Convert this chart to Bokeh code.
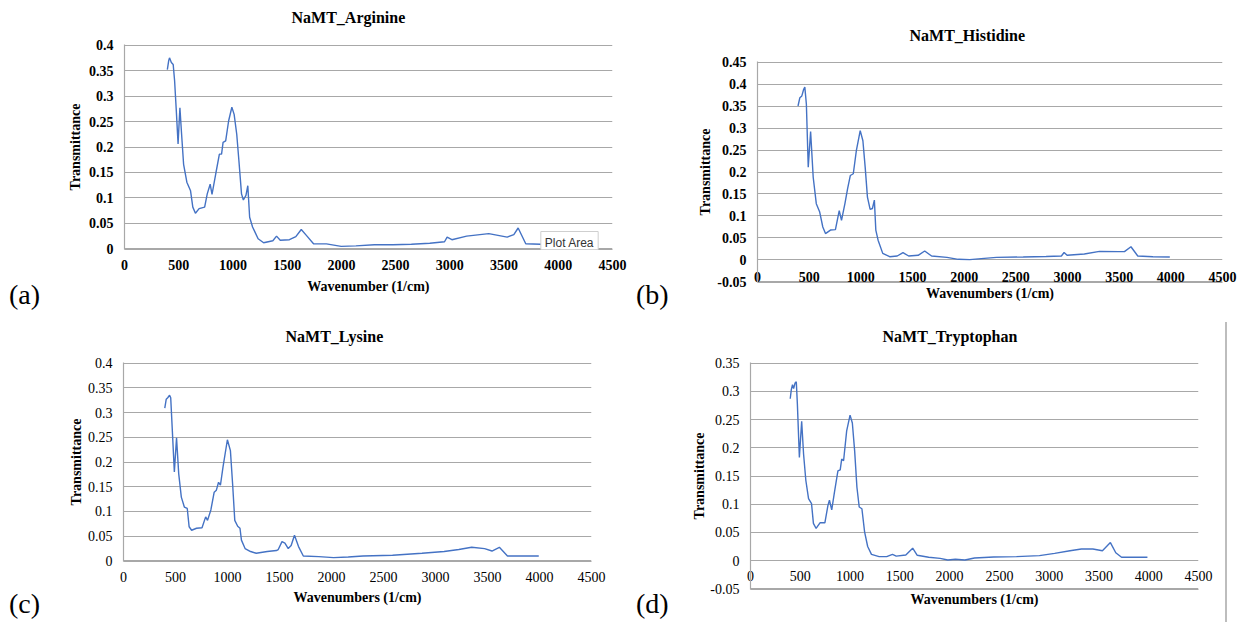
from bokeh.plotting import figure
from bokeh.models import Range1d, FixedTicker, Label, Title, Spacer, Div
from bokeh.layouts import column, row
from bokeh.embed import file_html
from bokeh.resources import INLINE

# ---------------- data ----------------
X_TICKS = [0, 500, 1000, 1500, 2000, 2500, 3000, 3500, 4000, 4500]

Y_TICKS_04 = [0, 0.05, 0.1, 0.15, 0.2, 0.25, 0.3, 0.35, 0.4]
Y_LABELS_04 = ["0", "0.05", "0.1", "0.15", "0.2", "0.25", "0.3", "0.35", "0.4"]
Y_TICKS_045 = [-0.05, 0, 0.05, 0.1, 0.15, 0.2, 0.25, 0.3, 0.35, 0.4, 0.45]
Y_LABELS_045 = ["-0.05", "0", "0.05", "0.1", "0.15", "0.2", "0.25", "0.3", "0.35", "0.4", "0.45"]
Y_TICKS_035 = [-0.05, 0, 0.05, 0.1, 0.15, 0.2, 0.25, 0.3, 0.35]
Y_LABELS_035 = ["-0.05", "0", "0.05", "0.1", "0.15", "0.2", "0.25", "0.3", "0.35"]

ARG_WN = [395, 408, 415, 432, 449, 462, 478, 494, 502, 511, 525, 545, 575, 609, 630, 654,
          688, 739, 763, 790, 807, 841, 875, 895, 909, 933, 960, 990, 1011, 1035, 1055, 1079,
          1096, 1120, 1137, 1154, 1181, 1232, 1283, 1368, 1402, 1436, 1521, 1580, 1630, 1675,
          1743, 1862, 1998, 2134, 2304, 2475, 2645, 2815, 2951, 2975, 3019, 3155, 3359, 3529,
          3590, 3630, 3700, 3836, 4000]
ARG_T = [0.352, 0.370, 0.375, 0.366, 0.362, 0.33, 0.27, 0.206, 0.24, 0.277, 0.23, 0.166,
         0.131, 0.114, 0.082, 0.070, 0.079, 0.082, 0.108, 0.127, 0.107, 0.147, 0.186, 0.186,
         0.209, 0.212, 0.251, 0.278, 0.264, 0.225, 0.173, 0.108, 0.096, 0.105, 0.124, 0.062,
         0.043, 0.020, 0.012, 0.016, 0.025, 0.017, 0.018, 0.024, 0.038, 0.027, 0.010, 0.0098,
         0.005, 0.006, 0.008, 0.008, 0.009, 0.011, 0.014, 0.023, 0.018, 0.025, 0.030, 0.023,
         0.028, 0.041, 0.010, 0.009, 0.009]

HIS_WN = [392, 410, 429, 447, 458, 473, 491, 514, 539, 569, 602, 632, 658, 706, 754, 791,
          813, 846, 872, 898, 927, 957, 994, 1020, 1042, 1064, 1090, 1112, 1131, 1145, 1167,
          1212, 1279, 1352, 1408, 1463, 1555, 1618, 1685, 1833, 1943, 2054, 2165, 2313, 2571,
          2793, 2941, 2967, 2996, 3163, 3310, 3495, 3551, 3614, 3680, 3827, 3990]
HIS_T = [0.350, 0.369, 0.373, 0.388, 0.393, 0.354, 0.211, 0.292, 0.188, 0.128, 0.109, 0.075,
         0.060, 0.068, 0.069, 0.112, 0.090, 0.128, 0.162, 0.192, 0.196, 0.249, 0.294, 0.271,
         0.211, 0.143, 0.115, 0.117, 0.136, 0.068, 0.045, 0.015, 0.0075, 0.009, 0.0166, 0.009,
         0.0106, 0.0204, 0.009, 0.006, 0.0015, 0.0008, 0.003, 0.006, 0.0068, 0.008, 0.009,
         0.017, 0.0106, 0.0136, 0.0196, 0.019, 0.019, 0.030, 0.009, 0.0075, 0.0068]

LYS_WN = [397, 411, 425, 443, 454, 468, 489, 510, 531, 556, 585, 613, 631, 655, 702, 755,
          790, 808, 840, 872, 893, 914, 932, 957, 999, 1028, 1049, 1070, 1098, 1120, 1134,
          1169, 1222, 1276, 1382, 1470, 1488, 1524, 1552, 1584, 1612, 1644, 1683, 1729, 1878,
          2020, 2161, 2303, 2587, 2870, 3083, 3224, 3348, 3472, 3543, 3614, 3692, 3827, 3993]
LYS_T = [0.309, 0.327, 0.330, 0.335, 0.330, 0.270, 0.180, 0.249, 0.176, 0.129, 0.109, 0.106,
         0.069, 0.062, 0.066, 0.067, 0.089, 0.082, 0.103, 0.139, 0.143, 0.159, 0.153, 0.190,
         0.245, 0.223, 0.156, 0.082, 0.070, 0.066, 0.042, 0.025, 0.019, 0.0154, 0.019, 0.021,
         0.023, 0.039, 0.036, 0.025, 0.031, 0.052, 0.029, 0.010, 0.0087, 0.0067, 0.008, 0.010,
         0.0114, 0.0154, 0.019, 0.023, 0.0275, 0.0248, 0.020, 0.0275, 0.010, 0.010, 0.010]

TRP_WN = [399, 410, 422, 433, 448, 460, 471, 491, 514, 533, 556, 583, 613, 632, 659, 698,
          747, 778, 793, 816, 843, 878, 901, 916, 935, 966, 1000, 1023, 1046, 1069, 1092, 1119,
          1146, 1177, 1215, 1292, 1368, 1426, 1464, 1560, 1629, 1675, 1790, 1905, 1982, 2058,
          2154, 2250, 2442, 2672, 2902, 3055, 3209, 3324, 3439, 3535, 3615, 3669, 3727, 3861,
          3987]
TRP_T = [0.287, 0.303, 0.312, 0.305, 0.315, 0.317, 0.277, 0.183, 0.247, 0.189, 0.142, 0.110,
         0.101, 0.066, 0.057, 0.067, 0.067, 0.098, 0.107, 0.090, 0.121, 0.159, 0.161, 0.180,
         0.177, 0.230, 0.258, 0.244, 0.195, 0.130, 0.095, 0.092, 0.051, 0.025, 0.011, 0.007,
         0.007, 0.011, 0.008, 0.010, 0.022, 0.0094, 0.006, 0.004, 0.0012, 0.0023, 0.0012,
         0.0047, 0.0064, 0.007, 0.0088, 0.0129, 0.0176, 0.0205, 0.0205, 0.0176, 0.032, 0.014,
         0.0059, 0.0059, 0.0059]

TITLES = ["NaMT_Arginine", "NaMT_Histidine", "NaMT_Lysine", "NaMT_Tryptophan"]
X_TITLES = ["Wavenumber (1/cm)", "Wavenumbers (1/cm)", "Wavenumbers (1/cm)", "Wavenumbers (1/cm)"]
Y_TITLE = "Transmittance"
TAGS = ["(a)", "(b)", "(c)", "(d)"]

# ---------------- style ----------------
SERIF = "Liberation Serif"
GRID = "#a8a8a8"
LINE = "#4472C4"
EPS = 0.0012


def make_panel(wn, t, yticks, ylabels, yr, size, borders, bold, title, xtitle, g):
    w, h = size
    bl, br, bt, bb = borders
    p = figure(width=w, height=h, x_range=Range1d(0, 4500),
               y_range=Range1d(yr[0] - EPS, yr[1] + EPS), title=None,
               min_border_left=bl, min_border_right=br, min_border_top=bt, min_border_bottom=bb,
               output_backend="svg", toolbar_location=None)
    p.outline_line_color = None
    p.background_fill_color = "white"
    p.border_fill_color = "white"
    p.xgrid.visible = False
    p.ygrid.ticker = FixedTicker(ticks=yticks)
    p.ygrid.grid_line_color = GRID
    p.ygrid.grid_line_width = 1.2

    style = "bold" if bold else "normal"
    xa = p.xaxis[0]
    ya = p.yaxis[0]
    for ax in (xa, ya):
        ax.axis_line_color = GRID
        ax.axis_line_width = 1.2
        ax.major_tick_line_color = None
        ax.minor_tick_line_color = None
        ax.major_tick_out = 0
        ax.major_tick_in = 0
        ax.major_label_text_font = SERIF
        ax.major_label_text_font_size = "14px"
        ax.major_label_text_font_style = style
        ax.major_label_text_color = "black"
        ax.axis_label_text_font = SERIF
        ax.axis_label_text_font_size = "14px"
        ax.axis_label_text_font_style = "bold"
        ax.axis_label_text_color = "black"
    xa.ticker = FixedTicker(ticks=X_TICKS)
    xa.major_label_standoff = g["xstand"]
    xa.axis_label = xtitle
    xa.axis_label_standoff = g["xlab"]
    ya.ticker = FixedTicker(ticks=yticks)
    ya.major_label_overrides = dict(zip(yticks, ylabels))
    ya.major_label_standoff = 11
    ya.axis_label = Y_TITLE
    ya.axis_label_standoff = g["ylab"]

    # spacer title (closest to the frame) then the chart title above it
    p.add_layout(Title(text=" ", text_font_size="1px", standoff=g["gap"]), "above")
    p.add_layout(Title(text=title, align="left", offset=g["toff"], standoff=0,
                       text_font=SERIF, text_font_size="16px", text_font_style="bold",
                       text_color="black"), "above")

    p.line(wn, t, line_color=LINE, line_width=1.4)
    return p


def tag_box(text, width, top, pad):
    sp = Spacer(width=width, height=top)
    d = Div(text=f'<span style="font-family:\'Liberation Serif\';font-size:28px;'
                 f'line-height:28px;color:black;position:relative;left:{pad}px;">{text}</span>',
            width=width, height=34, margin=0)
    return column(sp, d)


pa = make_panel(ARG_WN, ARG_T, Y_TICKS_04, Y_LABELS_04, (0, 0.4), (582, 322), (74, 20, 44, 73),
                True, TITLES[0], X_TITLES[0],
                dict(xstand=10, xlab=6, ylab=3, toff=167, gap=16))
pa.add_layout(Label(x=445, y=7, x_units="screen", y_units="screen", text="Plot Area",
                    text_font="Liberation Sans", text_font_size="12px", text_color="#333333",
                    text_align="center", text_baseline="middle",
                    background_fill_color="white", border_line_color="#cfcfcf", padding=4))

pb = make_panel(HIS_WN, HIS_T, Y_TICKS_045, Y_LABELS_045, (-0.05, 0.45), (570, 305), (85, 20, 44, 40),
                True, TITLES[1], X_TITLES[1],
                dict(xstand=-11, xlab=1, ylab=1, toff=152, gap=15))

pc = make_panel(LYS_WN, LYS_T, Y_TICKS_04, Y_LABELS_04, (0, 0.4), (577, 307), (73, 36, 40, 68),
                False, TITLES[2], X_TITLES[2],
                dict(xstand=10, xlab=5, ylab=1, toff=162, gap=15))

pd_ = make_panel(TRP_WN, TRP_T, Y_TICKS_035, Y_LABELS_035, (-0.05, 0.35), (553, 307), (78, 27, 40, 40),
                 False, TITLES[3], X_TITLES[3],
                 dict(xstand=-19, xlab=8, ylab=0, toff=132, gap=15))

vline = Div(text="", width=3, height=300, margin=0,
            styles={"border-left": "2px solid #bdbdbd"})

layout = column(
    row(tag_box(TAGS[0], 50, 281, 9), column(pa), tag_box(TAGS[1], 40, 281, 4),
        column(Spacer(width=570, height=17), pb)),
    row(tag_box(TAGS[2], 50, 268, 9), column(pc), tag_box(TAGS[3], 45, 268, 9),
        column(pd_), vline),
)
open("out.html", "w").write(file_html(layout, INLINE))
